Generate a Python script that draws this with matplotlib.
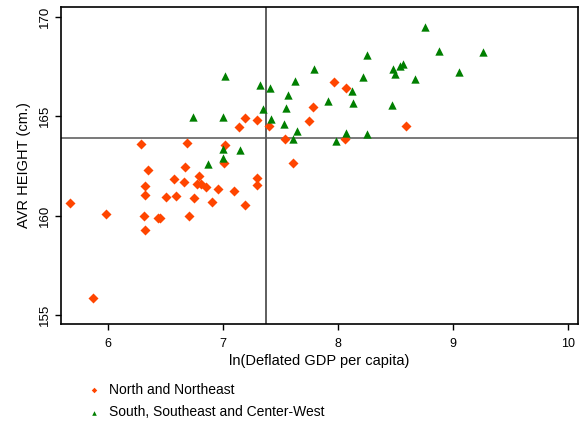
import matplotlib
matplotlib.use("Agg")
import matplotlib.pyplot as plt

# North and Northeast (ln gdp, avg height)
north_x = [5.67, 5.87, 5.98, 6.29, 6.35, 6.32, 6.32, 6.31, 6.32, 6.43, 6.45,
           6.50, 6.57, 6.59, 6.67, 6.69, 6.66, 6.70, 6.75, 6.79, 6.77, 6.81,
           6.85, 6.90, 6.96, 7.01, 7.02, 7.10, 7.19, 7.14, 7.19, 7.30, 7.30,
           7.30, 7.40, 7.54, 7.61, 7.75, 7.78, 7.97, 8.07, 8.06, 8.59]
north_y = [160.62, 155.88, 160.07, 163.59, 162.28, 161.49, 161.06, 160.00, 159.26, 159.88, 159.88,
           160.92, 161.84, 160.99, 162.47, 163.66, 161.68, 160.00, 160.87, 162.00, 161.61, 161.61,
           161.45, 160.69, 161.36, 162.65, 163.54, 161.24, 160.55, 164.47, 164.93, 164.81, 161.91,
           161.54, 164.51, 163.84, 162.67, 164.75, 165.49, 166.73, 166.41, 163.84, 164.51]

# South, Southeast and Center-West
south_x = [6.74, 6.87, 7.00, 7.00, 7.00, 7.02, 7.15, 7.32, 7.35, 7.41, 7.42, 7.53,
           7.55, 7.57, 7.61, 7.63, 7.64, 7.79, 7.91, 7.98, 8.07, 8.12, 8.13, 8.22,
           8.25, 8.25, 8.47, 8.48, 8.50, 8.54, 8.57, 8.67, 8.76, 8.88, 9.05, 9.26]
south_y = [164.96, 162.58, 164.96, 163.37, 162.89, 167.05, 163.30, 166.60, 165.39, 166.43, 164.88, 164.60,
           165.42, 166.07, 163.86, 166.76, 164.26, 167.37, 165.79, 163.76, 164.14, 166.28, 165.69, 166.96,
           168.07, 164.09, 165.59, 167.37, 167.12, 167.53, 167.61, 166.88, 169.48, 168.29, 167.21, 168.24]

mean_x = 7.374
mean_y = 163.89

xticks = [6, 7, 8, 9, 10]
yticks = [155, 160, 165, 170]

plt.rcParams['font.family'] = ['Liberation Sans', 'DejaVu Sans']

fig = plt.figure(figsize=(5.82, 4.25), dpi=100)
ax = fig.add_axes([61/582, 1-324/425, 517/582, 317/425])

ax.scatter(north_x, north_y, marker='D', s=26, color='#ff4500', linewidths=0,
           label='North and Northeast', zorder=3)
ax.scatter(south_x, south_y, marker='^', s=36, color='#007f00', linewidths=0,
           label='South, Southeast and Center-West', zorder=3)

ax.axvline(mean_x, color='#333333', lw=1.1, zorder=2)
ax.axhline(mean_y, color='#555555', lw=1.1, zorder=2)

ax.set_xlim(5.59, 10.09)
ax.set_ylim(154.55, 170.5)
ax.set_xticks(xticks)
ax.set_yticks(yticks)
ax.tick_params(axis='both', length=4, width=1, direction='out')
ax.tick_params(axis='x', labelsize=9, pad=6)
ax.tick_params(axis='y', labelsize=9.5, pad=3)
for lab in ax.get_yticklabels():
    lab.set_rotation(90)
    lab.set_va('center')
for sp in ax.spines.values():
    sp.set_color('black')
    sp.set_linewidth(1.2)

ax.set_xlabel('ln(Deflated GDP per capita)', fontsize=10.5, labelpad=3)
ax.set_ylabel('AVR HEIGHT (cm.)', fontsize=10.5, labelpad=6)

fig.legend(loc='upper left', bbox_to_anchor=(80/582, 1-383/425), frameon=False,
           fontsize=10, markerscale=0.55, handletextpad=0.1, labelspacing=0.6,
           borderaxespad=0, borderpad=0)

fig.savefig('out.png', dpi=100)
